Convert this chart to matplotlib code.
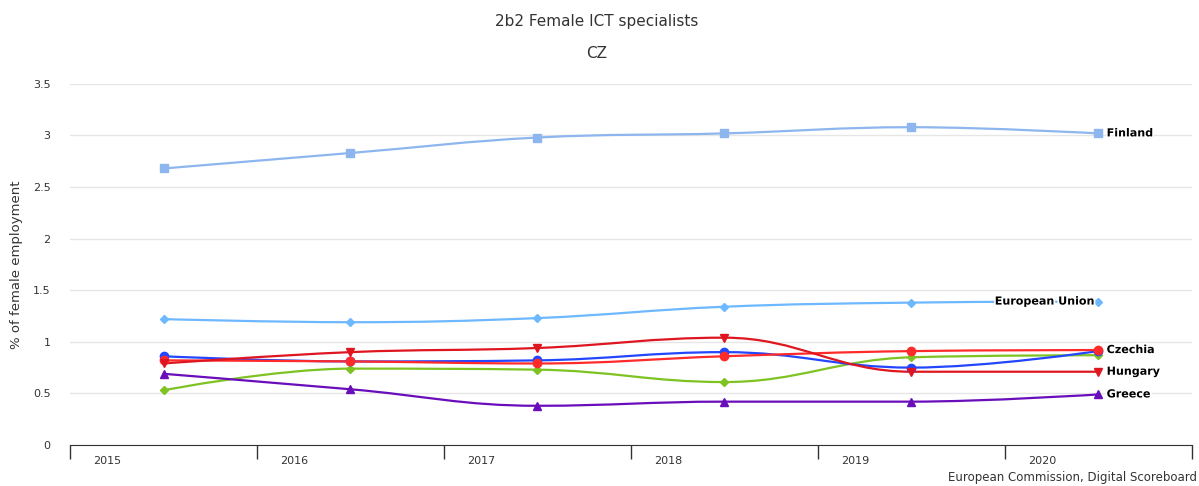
import numpy as np
import matplotlib
matplotlib.use('Agg')
import matplotlib.pyplot as plt
from matplotlib.path import Path
from matplotlib.patches import PathPatch
import matplotlib.patheffects as pe

years = [2015, 2016, 2017, 2018, 2019, 2020]

finland = [2.68, 2.83, 2.98, 3.02, 3.08, 3.02]
eu = [1.22, 1.19, 1.23, 1.34, 1.38, 1.39]
blue = [0.86, 0.81, 0.82, 0.90, 0.75, 0.91]
czechia = [0.82, 0.81, 0.79, 0.86, 0.91, 0.92]
hungary = [0.79, 0.90, 0.94, 1.04, 0.71, 0.71]
green = [0.53, 0.74, 0.73, 0.61, 0.85, 0.87]
greece = [0.69, 0.54, 0.38, 0.42, 0.42, 0.49]

series = [
    # values, colour, marker, size, end label
    (finland, '#8db6ef', 's', 6, 'Finland'),
    (eu, '#6db8ff', 'D', 4, 'European Union'),
    (green, '#7ec322', 'D', 4, None),
    (blue, '#2346ff', 'o', 6, None),
    (czechia, '#ff2a2a', 'o', 6, 'Czechia'),
    (hungary, '#df1620', 'v', 6, 'Hungary'),
    (greece, '#6a0dba', '^', 6, 'Greece'),
]


def spline_path(x, y, smoothing=1.5):
    # highcharts style spline
    n = len(x)
    denom = smoothing + 1
    lc = [None] * n
    rc = [None] * n
    for i in range(n):
        if i == 0 or i == n - 1:
            lc[i] = (x[i], y[i])
            rc[i] = (x[i], y[i])
            continue
        lx = (smoothing * x[i] + x[i - 1]) / denom
        ly = (smoothing * y[i] + y[i - 1]) / denom
        rx = (smoothing * x[i] + x[i + 1]) / denom
        ry = (smoothing * y[i] + y[i + 1]) / denom
        corr = (ry - ly) * (rx - x[i]) / (rx - lx) + y[i] - ry
        ly += corr
        ry += corr
        if ly > y[i - 1] and ly > y[i]:
            ly = max(y[i - 1], y[i])
            ry = 2 * y[i] - ly
        elif ly < y[i - 1] and ly < y[i]:
            ly = min(y[i - 1], y[i])
            ry = 2 * y[i] - ly
        if ry > y[i + 1] and ry > y[i]:
            ry = max(y[i + 1], y[i])
            ly = 2 * y[i] - ry
        elif ry < y[i + 1] and ry < y[i]:
            ry = min(y[i + 1], y[i])
            ly = 2 * y[i] - ry
        lc[i] = (lx, ly)
        rc[i] = (rx, ry)
    verts = [(x[0], y[0])]
    codes = [Path.MOVETO]
    for i in range(1, n):
        verts += [rc[i - 1], lc[i], (x[i], y[i])]
        codes += [Path.CURVE4] * 3
    return Path(verts, codes)


fig = plt.figure(figsize=(11.99, 4.86), dpi=100)
ax = fig.add_axes([0.0584, 0.0844, 0.9356, 0.743])

xs = [yr + 0.5 for yr in years]
for vals, col, mk, ms, lab in series:
    ax.add_patch(PathPatch(spline_path(xs, vals), facecolor='none', edgecolor=col, lw=1.6, zorder=3))
    ax.plot(xs, vals, linestyle='none', marker=mk, color=col, markersize=ms, zorder=4)
    if lab:
        if lab == 'European Union':
            t = ax.annotate(lab, (xs[-1], vals[-1]), xytext=(-3, 0), textcoords='offset points',
                            ha='right', va='center', fontsize=8, fontweight='bold', color='black', zorder=5)
        else:
            t = ax.annotate(lab, (xs[-1], vals[-1]), xytext=(6, 0), textcoords='offset points',
                            ha='left', va='center', fontsize=8, fontweight='bold', color='black', zorder=5)
        t.set_path_effects([pe.withStroke(linewidth=2.5, foreground='white')])

ax.set_xlim(2015, 2021)
ax.set_ylim(0, 3.5)
ax.set_yticks([0, 0.5, 1, 1.5, 2, 2.5, 3, 3.5])
ax.set_yticklabels(['0', '0.5', '1', '1.5', '2', '2.5', '3', '3.5'])
ax.yaxis.grid(True, color='#e6e6e6', lw=1)
ax.set_axisbelow(True)
ax.tick_params(axis='y', length=0, labelsize=8, labelcolor='#333333', pad=14)

ax.set_xticks(list(range(2015, 2022)))
ax.set_xticklabels([])
ax.tick_params(axis='x', direction='out', length=10, color='#333333', width=1)
for yr in years:
    ax.text(yr + 0.2, -0.03, str(yr), transform=ax.get_xaxis_transform(), ha='center', va='top',
            fontsize=8, color='#333333')

for s in ['top', 'right', 'left']:
    ax.spines[s].set_visible(False)
ax.spines['bottom'].set_color('#333333')

ax.set_ylabel('% of female employment', fontsize=9.5, color='#333333', labelpad=7)

fig.text(0.4975, 0.955, '2b2 Female ICT specialists', ha='center', va='center', fontsize=11, color='#333333')
fig.text(0.4975, 0.889, 'CZ', ha='center', va='center', fontsize=11, color='#333333')
fig.text(0.998, 0.004, 'European Commission, Digital Scoreboard', ha='right', va='bottom', fontsize=8.5, color='#333333')

fig.savefig('out.png', dpi=100)
